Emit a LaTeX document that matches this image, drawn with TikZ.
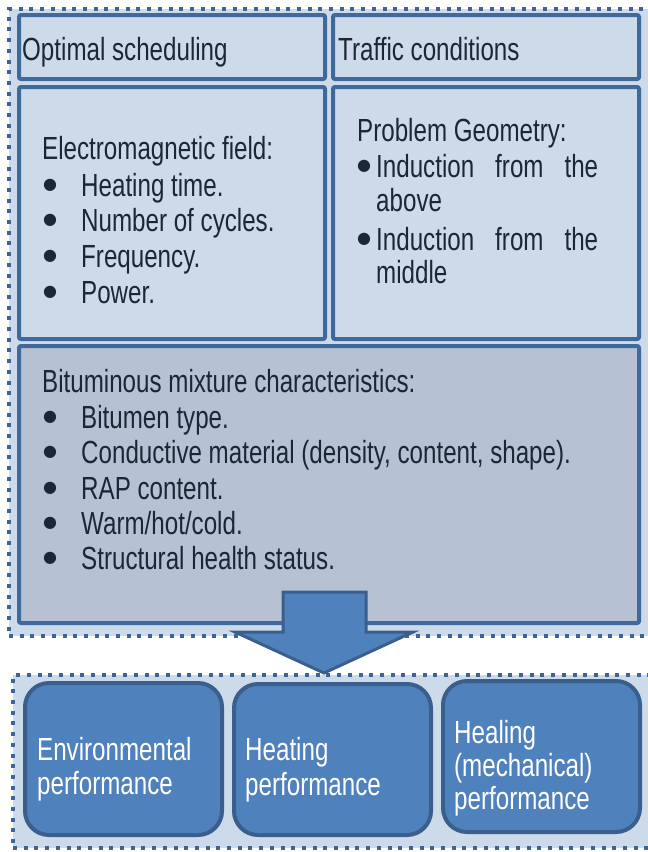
\documentclass[tikz,border=0pt]{standalone}
\usepackage{fontspec}
\setmainfont{Liberation Sans}[FakeStretch=0.755]
\newfontfamily\bulfont{DejaVu Sans}
\newcommand{\bl}{\raisebox{6.5pt}{\bulfont\fontsize{16}{16}\selectfont●}}
\definecolor{lightfill}{HTML}{CDDAEA}
\definecolor{grayfill}{HTML}{B6C2D4}
\definecolor{bordercol}{HTML}{3F689B}
\definecolor{dotcol}{HTML}{3D6496}
\definecolor{bluefill}{HTML}{4F81BD}
\definecolor{bluedark}{HTML}{3A5F8D}
\definecolor{textcol}{HTML}{1B2636}
\begin{document}
\begin{tikzpicture}[x=1pt,y=-1pt,
  grp/.style={draw=dotcol, fill=lightfill, line width=4pt, dash pattern=on 4pt off 6.7pt, anchor=north west, inner sep=0pt, outer sep=0pt},
  box/.style={draw=bordercol, fill=lightfill, line width=4pt, rounded corners=2pt, anchor=north west, inner sep=0pt, outer sep=0pt},
  outbox/.style={draw=bluedark, fill=bluefill, line width=4pt, rounded corners=24pt, anchor=north west, inner sep=0pt, outer sep=0pt},
  txt/.style={anchor=base west, inner sep=0pt, text=textcol, font=\fontsize{32}{36}\selectfont},
  wtxt/.style={txt, text=white},
  blockarrow/.style={draw=bluedark, fill=bluefill, line width=3pt, line join=miter}]
\useasboundingbox (0,0) rectangle (648,852);
\clip (0,0) rectangle (648,852);
% top group
\node[grp, minimum width=651pt, minimum height=627pt] (topgrp) at (9,9) {};
\node[box, minimum width=306pt, minimum height=64pt] (opt) at (19,15) {};
\node[box, minimum width=306pt, minimum height=64pt] (traffic) at (333,15) {};
\node[box, minimum width=306pt, minimum height=252pt] (em) at (19,87) {};
\node[box, minimum width=306pt, minimum height=252pt] (geo) at (333,87) {};
\node[box, fill=grayfill, minimum width=620pt, minimum height=277pt] (bit) at (19,346) {};
% bottom group
\node[grp, minimum width=650pt, minimum height=173pt] (botgrp) at (13,675) {};
\node[outbox, minimum width=197pt, minimum height=152pt] (env) at (25,683) {};
\node[outbox, minimum width=197pt, minimum height=151pt] (heat) at (234,684) {};
\node[outbox, minimum width=197pt, minimum height=151pt] (heal) at (443,681) {};
% block arrow
\coordinate (atip) at (324,673);
\draw[blockarrow] (283,592) -- (366,592) -- (366,632) -- (413,632) -- (atip) -- (235,632) -- (283,632) -- cycle;
% texts top
\node[txt] (t1) at (22,60) {Optimal scheduling};
\node[txt] (t2) at (338,60) {Traffic conditions};
\node[txt] (t3) at (42,159) {Electromagnetic field:};
\node[txt] (t4) at (43,196) {\makebox[38pt][l]{\bl}Heating time.};
\node[txt] (t5) at (43,231) {\makebox[38pt][l]{\bl}Number of cycles.};
\node[txt] (t6) at (43,267) {\makebox[38pt][l]{\bl}Frequency.};
\node[txt] (t7) at (43,303) {\makebox[38pt][l]{\bl}Power.};
\node[txt] (g1) at (357,141) {Problem Geometry:};
\node[txt] (g2) at (357,177) {\makebox[19pt][l]{\bl}\makebox[222pt][s]{Induction from the}};
\node[txt] (g3) at (376,211) {above};
\node[txt] (g4) at (357,250) {\makebox[19pt][l]{\bl}\makebox[222pt][s]{Induction from the}};
\node[txt] (g5) at (376,283) {middle};
\node[txt] (b1) at (42,392) {Bituminous mixture characteristics:};
\node[txt] (b2) at (43,428) {\makebox[38pt][l]{\bl}Bitumen type.};
\node[txt] (b3) at (43,463) {\makebox[38pt][l]{\bl}Conductive material (density, content, shape).};
\node[txt] (b4) at (43,499) {\makebox[38pt][l]{\bl}RAP content.};
\node[txt] (b5) at (43,534) {\makebox[38pt][l]{\bl}Warm/hot/cold.};
\node[txt] (b6) at (43,569) {\makebox[38pt][l]{\bl}Structural health status.};
% bottom texts
\node[wtxt] (e1) at (37,760) {Environmental};
\node[wtxt] (e2) at (37,794) {performance};
\node[wtxt] (h1) at (245,760) {Heating};
\node[wtxt] (h2) at (245,795) {performance};
\node[wtxt] (k1) at (454,743) {Healing};
\node[wtxt] (k2) at (454,776) {(mechanical)};
\node[wtxt] (k3) at (454,809) {performance};
\end{tikzpicture}
\end{document}
